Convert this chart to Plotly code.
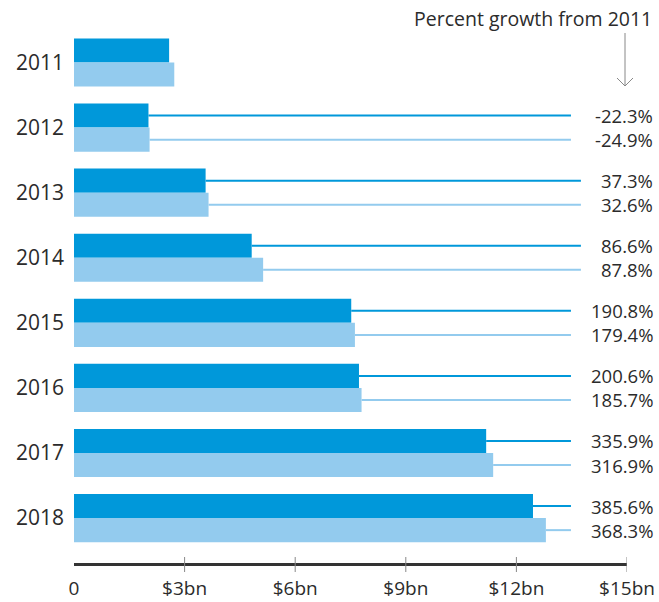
import plotly.graph_objects as go

years = ["2011", "2012", "2013", "2014", "2015", "2016", "2017", "2018"]
series_a = [2.58, 2.02, 3.57, 4.82, 7.52, 7.73, 11.18, 12.45]
series_b = [2.72, 2.05, 3.65, 5.13, 7.62, 7.80, 11.37, 12.80]
growth_a = ["", "-22.3%", "37.3%", "86.6%", "190.8%", "200.6%", "335.9%", "385.6%"]
growth_b = ["", "-24.9%", "32.6%", "87.8%", "179.4%", "185.7%", "316.9%", "368.3%"]
x_ticks = [0, 3, 6, 9, 12, 15]
x_ticklabels = ["0", "$3bn", "$6bn", "$9bn", "$12bn", "$15bn"]

DARK = "#0098DA"
LIGHT = "#93CBEE"
TEXT = "#2b2b2b"
FONT = "Open Sans, sans-serif"

fig = go.Figure()
fig.add_trace(go.Bar(y=years, x=series_a, orientation="h", marker=dict(color=DARK, line=dict(width=0)), name="a"))
fig.add_trace(go.Bar(y=years, x=series_b, orientation="h", marker=dict(color=LIGHT, line=dict(width=0)), name="b"))

off = 0.185
shapes = []
annotations = []
for i, y in enumerate(years):
    for vals, labels, col, sgn in ((series_a, growth_a, DARK, -1), (series_b, growth_b, LIGHT, 1)):
        lab = labels[i]
        if not lab:
            continue
        yy = i + sgn * off
        xend = 13.48 if len(lab) >= 6 else 13.75
        shapes.append(dict(type="line", xref="x", yref="y", x0=vals[i], x1=xend, y0=yy, y1=yy,
                           line=dict(color=col, width=2), layer="below"))
        annotations.append(dict(xref="paper", yref="y", x=1.0506, y=yy, text=lab, showarrow=False,
                                xanchor="right", yanchor="middle", font=dict(size=18.5, color=TEXT, family=FONT)))

# tick marks crossing axis line
for t in x_ticks[1:]:
    shapes.append(dict(type="line", xref="x", yref="paper", x0=t, x1=t, y0=(563 - 557) / 533, y1=(563 - 572) / 533,
                       line=dict(color="#888888", width=1)))

# header arrow
ax = (625 - 74) / 553
def py(p):
    return (563 - p) / 533
shapes.append(dict(type="line", xref="paper", yref="paper", x0=ax, x1=ax, y0=py(33), y1=py(86), line=dict(color="#888888", width=1)))
shapes.append(dict(type="line", xref="paper", yref="paper", x0=(617 - 74) / 553, x1=ax, y0=py(78), y1=py(86), line=dict(color="#888888", width=1)))
shapes.append(dict(type="line", xref="paper", yref="paper", x0=(633 - 74) / 553, x1=ax, y0=py(78), y1=py(86), line=dict(color="#888888", width=1)))

annotations.append(dict(xref="paper", yref="paper", x=(654 - 74) / 553, y=py(18), text="Percent growth from 2011",
                        showarrow=False, xanchor="right", yanchor="middle", font=dict(size=19.5, color=TEXT, family=FONT)))

fig.update_layout(
    width=659, height=602,
    margin=dict(l=74, r=32, t=30, b=39),
    paper_bgcolor="white", plot_bgcolor="white",
    barmode="group", bargap=0.26, bargroupgap=0,
    showlegend=False,
    font=dict(family=FONT, color=TEXT),
    shapes=shapes, annotations=annotations,
    xaxis=dict(range=[0, 15], tickvals=x_ticks, ticktext=x_ticklabels, showgrid=False, zeroline=False,
               showline=True, linecolor="#333333", linewidth=3, ticks="", ticklabelstandoff=6,
               automargin=False, tickfont=dict(size=19, color=TEXT, family=FONT)),
    yaxis=dict(type="category", range=[7.69, -0.5], showgrid=False, zeroline=False, showline=False,
               automargin=False, ticks="", ticklabelstandoff=9, tickfont=dict(size=21, color=TEXT, family=FONT)),
)

fig.write_html("out.html", config={"displayModeBar": False},
               post_script="document.body.style.margin='0';document.body.style.padding='0';")
